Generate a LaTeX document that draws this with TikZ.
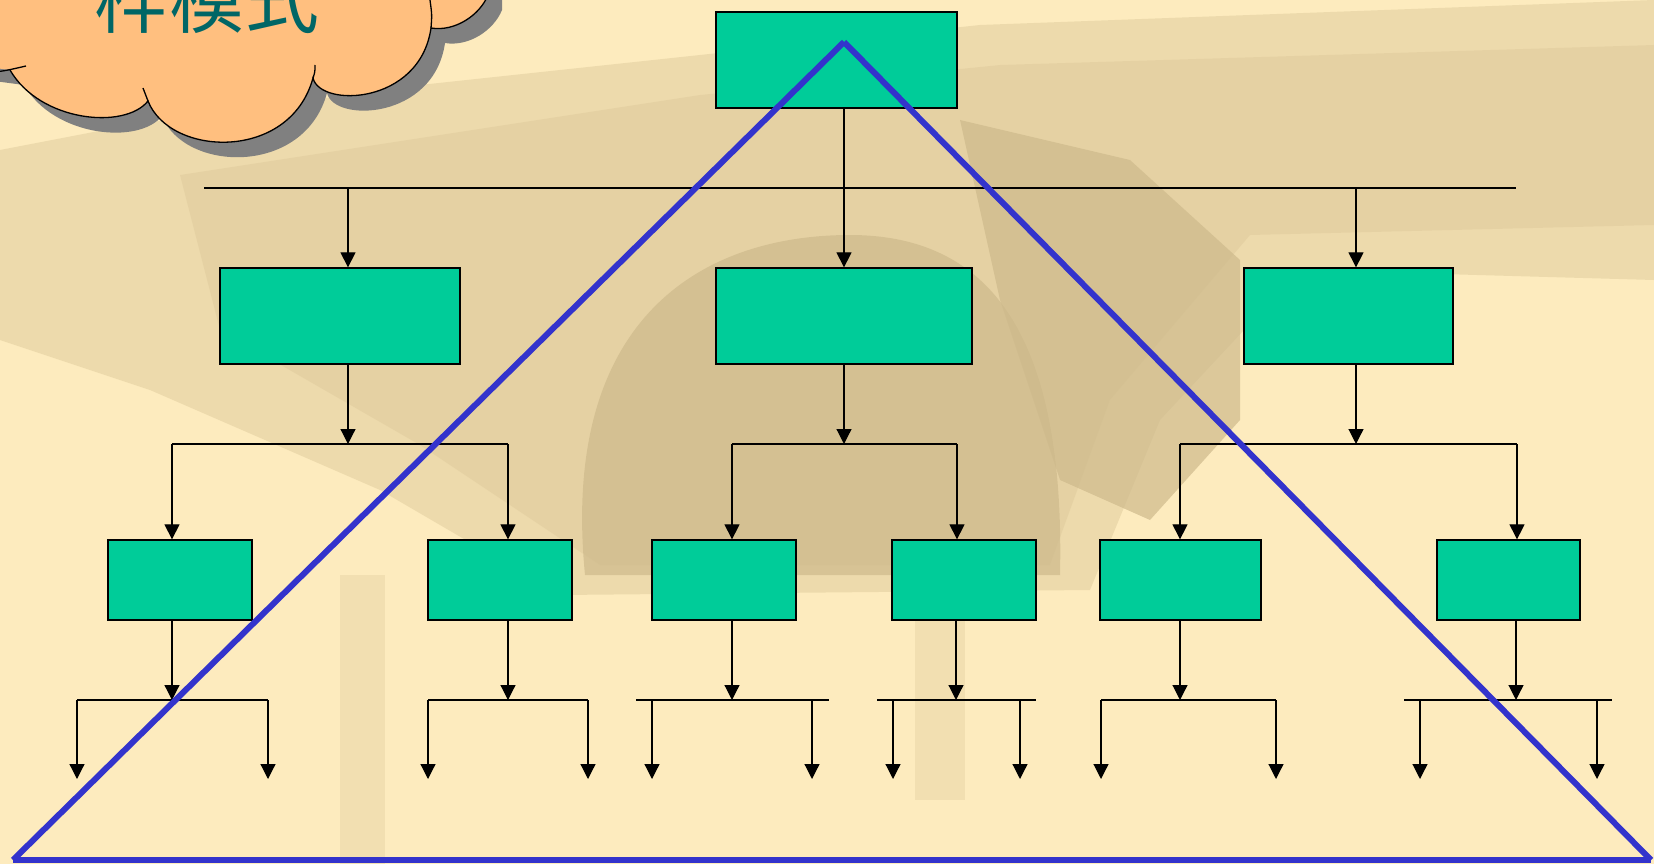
\documentclass[tikz,border=0pt]{standalone}
\usepackage{fontspec}
\newfontfamily\cjk{Noto Sans CJK TC}
\usetikzlibrary{arrows.meta}
\definecolor{bgcream}{RGB}{253,235,190}
\definecolor{tanA}{RGB}{222,202,155}
\definecolor{tanB}{RGB}{206,186,140}
\definecolor{boxgreen}{RGB}{0,204,153}
\definecolor{pyrblue}{RGB}{51,51,204}
\definecolor{cloudfill}{RGB}{255,191,127}
\definecolor{shadowgray}{RGB}{128,128,128}
\definecolor{textteal}{RGB}{0,102,102}
\tikzset{
  orgbox/.style={draw=black, line width=1.3pt, fill=boxgreen, inner sep=0pt, rectangle},
  conn/.style={draw=black, line width=1.2pt},
  arr/.style={conn, -{Triangle[width=15pt,length=15pt]}},
  pyr/.style={draw=pyrblue, line width=6pt},
  cloudline/.style={draw=black, line width=1.3pt}
}
\begin{document}
\begin{tikzpicture}[x=1pt,y=-1pt]
\useasboundingbox (0,0) rectangle (1654,864);
\clip (0,0) rectangle (1654,864);
% background photo (approximation)
\fill[bgcream] (0,0) rectangle (1654,864);
\fill[tanA, opacity=.5] (0,150) -- (130,125) -- (420,85) -- (700,55) -- (980,25) -- (1654,0) -- (1654,280) -- (1300,270) -- (1160,420) -- (1090,590) -- (560,595) -- (380,490) -- (150,390) -- (0,340) -- cycle;
\fill[tanA, opacity=.5] (180,175) -- (700,95) -- (1000,65) -- (1654,45) -- (1654,225) -- (1250,235) -- (1110,400) -- (1050,565) -- (600,565) -- (420,445) -- (220,330) -- cycle;
\fill[tanB, opacity=.7] (585,575) .. controls (560,320) and (700,235) .. (850,235) .. controls (1000,235) and (1065,350) .. (1060,575) -- cycle;
\fill[tanB, opacity=.7] (960,120) -- (1130,160) -- (1240,260) -- (1240,420) -- (1150,520) -- (1060,480) -- (1000,300) -- cycle;
\fill[tanA, opacity=.35] (340,575) rectangle (385,864);
\fill[tanA, opacity=.35] (915,600) rectangle (965,800);

% cloud
\fill[shadowgray, shift={(14,15)}] (-20,-20) -- (-20,66) -- (10,70) .. controls (40,122) and (125,130) .. (148,101) .. controls (170,157) and (290,162) .. (313,78) .. controls (320,108) and (420,105) .. (431,28) .. controls (455,32) and (480,15) .. (488,-5) -- (488,-20) -- cycle;
\fill[cloudfill] (-20,-20) -- (-20,66) -- (10,70) .. controls (40,122) and (125,130) .. (148,101) .. controls (170,157) and (290,162) .. (313,78) .. controls (320,108) and (420,105) .. (431,28) .. controls (455,32) and (480,15) .. (488,-5) -- (488,-20) -- cycle;
\draw[cloudline] (-20,72) .. controls (0,72) .. (26,66);
\draw[cloudline] (10,70) .. controls (40,122) and (125,130) .. (148,101) .. controls (170,157) and (290,162) .. (313,78) .. controls (320,108) and (420,105) .. (431,28) .. controls (455,32) and (480,15) .. (488,-5);
\draw[cloudline] (148,101) .. controls (145,95) .. (143,88);
\draw[cloudline] (313,78) .. controls (315,72) .. (315,65);
\draw[cloudline] (431,28) .. controls (432,15) .. (430,0);
\node[font=\cjk\fontsize{75}{80}\selectfont, text=textteal, anchor=base, inner sep=0pt] (title) at (207,28) {梓模式};

% boxes
\node[orgbox, minimum width=241pt, minimum height=96pt] (top) at (836.5,60) {};
\node[orgbox, minimum width=240pt, minimum height=96pt] (A) at (340,316) {};
\node[orgbox, minimum width=256pt, minimum height=96pt] (B) at (844,316) {};
\node[orgbox, minimum width=209pt, minimum height=96pt] (C) at (1348.5,316) {};
\node[orgbox, minimum width=144pt, minimum height=80pt] (b1) at (180,580) {};
\node[orgbox, minimum width=144pt, minimum height=80pt] (b2) at (500,580) {};
\node[orgbox, minimum width=144pt, minimum height=80pt] (b3) at (724,580) {};
\node[orgbox, minimum width=144pt, minimum height=80pt] (b4) at (964,580) {};
\node[orgbox, minimum width=161pt, minimum height=80pt] (b5) at (1180.5,580) {};
\node[orgbox, minimum width=143pt, minimum height=80pt] (b6) at (1508.5,580) {};

% level 1 -> 2
\coordinate (j0) at (844,188);
\coordinate (bar0L) at (204,188);
\coordinate (bar0R) at (1516,188);
\coordinate (jA) at (348,188);
\coordinate (jC) at (1356,188);
\draw[conn] (top.south -| j0) -- (j0);
\draw[conn] (bar0L) -- (bar0R);
\draw[arr] (jA) -- (jA |- A.north);
\draw[arr] (j0) -- (j0 |- B.north);
\draw[arr] (jC) -- (jC |- C.north);

% level 2 -> 3
\coordinate (kA) at (348,444);
\coordinate (kB) at (844,444);
\coordinate (kC) at (1356,444);
\coordinate (kAL) at (172,444); \coordinate (kAR) at (508,444);
\coordinate (kBL) at (732,444); \coordinate (kBR) at (957,444);
\coordinate (kCL) at (1180,444); \coordinate (kCR) at (1517,444);
\draw[arr] (A.south -| kA) -- (kA);
\draw[arr] (B.south -| kB) -- (kB);
\draw[arr] (C.south -| kC) -- (kC);
\draw[conn] (kAL) -- (kAR);
\draw[conn] (kBL) -- (kBR);
\draw[conn] (kCL) -- (kCR);
\draw[arr] (kAL) -- (kAL |- b1.north);
\draw[arr] (kAR) -- (kAR |- b2.north);
\draw[arr] (kBL) -- (kBL |- b3.north);
\draw[arr] (kBR) -- (kBR |- b4.north);
\draw[arr] (kCL) -- (kCL |- b5.north);
\draw[arr] (kCR) -- (kCR |- b6.north);

% level 3 -> 4
\foreach \n/\cx/\l/\r/\al/\ar in {b1/172/77/268/77/268, b2/508/428/588/428/588, b3/732/636/829/652/812, b4/956/877/1036/893/1020, b5/1180/1101/1276/1101/1276, b6/1516/1404/1612/1420/1597}{
  \coordinate (m\n) at (\cx,700);
  \coordinate (m\n L) at (\l,700);
  \coordinate (m\n R) at (\r,700);
  \coordinate (m\n a) at (\al,700);
  \coordinate (m\n b) at (\ar,700);
  \coordinate (e\n a) at (\al,779);
  \coordinate (e\n b) at (\ar,779);
  \draw[arr] (\n.south -| m\n) -- (m\n);
  \draw[conn] (m\n L) -- (m\n R);
  \draw[arr] (m\n a) -- (e\n a);
  \draw[arr] (m\n b) -- (e\n b);
}

% pyramid
\coordinate (apex) at (844,42);
\coordinate (bl) at (13,860);
\coordinate (br) at (1651,860);
\draw[pyr] (bl) -- (apex);
\draw[pyr] (apex) -- (br);
\draw[pyr] (bl) -- (br);
\end{tikzpicture}
\end{document}
